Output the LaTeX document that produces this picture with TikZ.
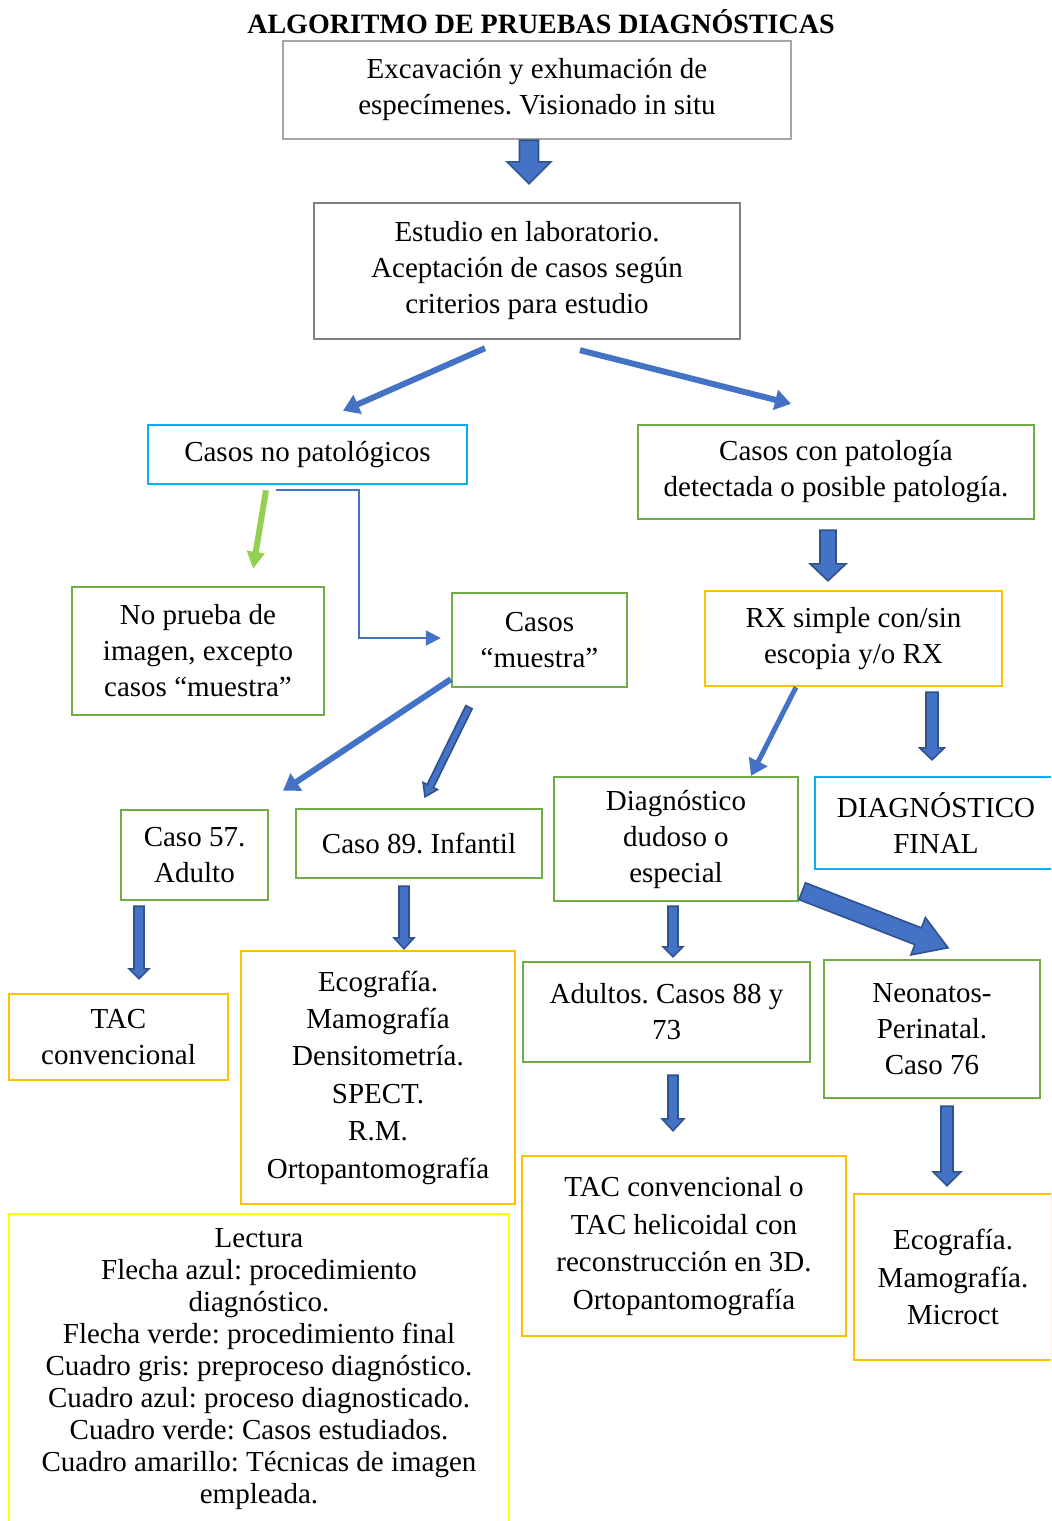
\documentclass[tikz,border=0pt]{standalone}
\usepackage{fontspec}
\setmainfont{Liberation Serif}
\frenchspacing
\usetikzlibrary{arrows.meta,calc}

\definecolor{boxgrayA}{HTML}{A6A6A6}
\definecolor{boxgrayB}{HTML}{808080}
\definecolor{boxcyan}{HTML}{00B0F0}
\definecolor{boxgreen}{HTML}{70AD47}
\definecolor{boxorange}{HTML}{FFC000}
\definecolor{boxyellow}{HTML}{FFFF00}
\definecolor{arrblue}{HTML}{4472C4}
\definecolor{arrdark}{HTML}{2F528F}
\definecolor{arrgreen}{HTML}{92D050}

\tikzset{
  box/.style={draw, line width=1.2pt, align=center, inner sep=0pt,
    font=\fontsize{14.5}{18}\selectfont},
  graybox/.style={box, draw=boxgrayA},
  darkgraybox/.style={box, draw=boxgrayB},
  cyanbox/.style={box, draw=boxcyan},
  greenbox/.style={box, draw=boxgreen},
  orangebox/.style={box, draw=boxorange, font=\fontsize{14.5}{18.7}\selectfont},
  legendbox/.style={box, draw=boxyellow, font=\fontsize{14.5}{16}\selectfont},
  sz/.style 2 args={minimum width=#1, minimum height=#2},
  blockarr/.style={fill=arrblue, draw=arrdark, line width=0.8pt, line join=miter},
  linearr/.style={draw=arrblue, line width=3pt, -{Triangle[width=10pt,length=8pt]}},
  thinarr/.style={draw=arrblue, line width=1pt, -{Triangle[width=7.5pt,length=7.5pt]}},
  greenarr/.style={draw=arrgreen, line width=3pt, -{Triangle[width=8.5pt,length=8.5pt]}},
}

% block arrow: from, to, half shaft, half head, head length
\newcommand{\blockarrow}[5]{%
  \coordinate (bhead) at ($(#2)!#5!(#1)$);
  \filldraw[blockarr] ($(#1)!#3!90:(#2)$) -- ($(bhead)!#3!90:(#2)$)
    -- ($(bhead)!#4!90:(#2)$) -- (#2) -- ($(bhead)!#4!-90:(#2)$)
    -- ($(bhead)!#3!-90:(#2)$) -- ($(#1)!#3!-90:(#2)$) -- cycle;}

\begin{document}
\begin{tikzpicture}[x=0.5pt,y=-0.5pt]
  \useasboundingbox (0,0) rectangle (1051,1521);
  \clip (0,0) rectangle (1051,1521);

  \node (title) at (541,22) {\fontsize{14}{16}\selectfont\bfseries ALGORITMO DE PRUEBAS DIAGNÓSTICAS};

  % boxes
  \node[graybox, sz={254pt}{49pt}] (exc) at (537,90)
    {Excavación y exhumación de\\especímenes. Visionado in situ};
  \node[darkgraybox, sz={213pt}{68pt}] (est) at (527,271)
    {Estudio en laboratorio.\\Aceptación de casos según\\criterios para estudio};
  \node[cyanbox, sz={159.5pt}{29.5pt}] (nopat) at (307.5,454.5)
    {Casos no patológicos};
  \node[greenbox, sz={198pt}{47pt}] (conpat) at (836,472)
    {Casos con patología\\detectada o posible patología.};
  \node[greenbox, sz={126pt}{64pt}] (noprueba) at (198,651)
    {No prueba de\\imagen, excepto\\casos “muestra”};
  \node[greenbox, sz={87.5pt}{47pt}] (muestra) at (539.5,640)
    {Casos\\“muestra”};
  \node[box, draw=boxorange, sz={148.5pt}{47.5pt}] (rx) at (853.5,638.5)
    {RX simple con/sin\\escopia y/o RX};
  \node[greenbox, sz={73.5pt}{45pt}] (c57) at (194.5,855)
    {Caso 57.\\Adulto};
  \node[greenbox, sz={123pt}{34.5pt}] (c89) at (419,843.5)
    {Caso 89. Infantil};
  \node[greenbox, sz={122pt}{62pt}] (dud) at (676,839)
    {Diagnóstico\\dudoso o\\especial};
  \node[cyanbox, sz={121pt}{46pt}] (final) at (936,823)
    {DIAGNÓSTICO\\FINAL};
  \node[box, draw=boxorange, sz={109.5pt}{43pt}] (tac) at (118.5,1037)
    {TAC\\convencional};
  \node[orangebox, sz={137pt}{126.5pt}] (eco) at (378,1077.5)
    {Ecografía.\\Mamografía\\Densitometría.\\SPECT.\\R.M.\\Ortopantomografía};
  \node[greenbox, sz={143.5pt}{50pt}] (adu) at (666.5,1012)
    {Adultos. Casos 88 y\\73};
  \node[greenbox, sz={108pt}{69pt}] (neo) at (932,1029)
    {Neonatos-\\Perinatal.\\Caso 76};
  \node[orangebox, sz={162pt}{90pt}] (tach) at (684,1246)
    {TAC convencional o\\TAC helicoidal con\\reconstrucción en 3D.\\Ortopantomografía};
  \node[orangebox, sz={99pt}{83pt}] (micro) at (953,1277)
    {Ecografía.\\Mamografía.\\Microct};
  \node[legendbox, sz={250pt}{155.5pt}] (lect) at (259,1369.5)
    {Lectura\\Flecha azul: procedimiento\\diagnóstico.\\Flecha verde: procedimiento final\\Cuadro gris: preproceso diagnóstico.\\Cuadro azul: proceso diagnosticado.\\Cuadro verde: Casos estudiados.\\Cuadro amarillo: Técnicas de imagen\\empleada.};

  % arrow ends
  \coordinate (a1s) at ($(exc.south)+(-8,0)$);
  \coordinate (a1e) at ($(est.north)+(2,-18)$);
  \coordinate (a4s) at ($(conpat.south)+(-8,10)$);
  \coordinate (a4e) at ($(rx.north)+(-25.5,-9)$);
  \coordinate (a6s) at ($(muestra.south)+(-70.5,19)$);
  \coordinate (a6e) at ($(c89.north)+(6,-11)$);
  \coordinate (a8s) at ($(rx.south)+(78.5,5)$);
  \coordinate (a8e) at ($(final.north)+(-4,-16)$);
  \coordinate (a9s) at ($(c57.south)+(-55.5,5)$);
  \coordinate (a9e) at ($(tac.north)+(20.5,-14)$);
  \coordinate (a10s) at ($(c89.south)+(-15,7)$);
  \coordinate (a10e) at ($(eco.north)+(26,-1)$);
  \coordinate (a11s) at ($(dud.south)+(-3,4)$);
  \coordinate (a11e) at ($(adu.north)+(6.5,-4)$);
  \coordinate (a12s) at ($(dud.south east)+(3,-11)$);
  \coordinate (a12e) at ($(neo.north)+(16,-11)$);
  \coordinate (a13s) at ($(adu.south)+(6.5,12)$);
  \coordinate (a13e) at ($(tach.north)+(-11,-24)$);
  \coordinate (a14s) at ($(neo.south)+(15,7)$);
  \coordinate (a14e) at ($(micro.north)+(-6,-7)$);

  % block arrows
  \blockarrow{a1s}{a1e}{4.75pt}{11pt}{11pt}
  \blockarrow{a4s}{a4e}{4pt}{9pt}{8.5pt}
  \blockarrow{a6s}{a6e}{1.75pt}{4pt}{6pt}
  \blockarrow{a8s}{a8e}{3pt}{6.25pt}{6pt}
  \blockarrow{a9s}{a9e}{2.5pt}{5pt}{5pt}
  \blockarrow{a10s}{a10e}{2.5pt}{5pt}{5.5pt}
  \blockarrow{a11s}{a11e}{2.5pt}{5pt}{5pt}
  \blockarrow{a12s}{a12e}{4.5pt}{10pt}{16pt}
  \blockarrow{a13s}{a13e}{2.5pt}{5.5pt}{6pt}
  \blockarrow{a14s}{a14e}{3pt}{7pt}{7pt}

  % line arrows
  \draw[linearr] ($(est.south)+(-42,8)$) -- ($(nopat.north)+(35.5,-13)$);
  \draw[linearr] ($(est.south)+(53,10)$) -- ($(conpat.north)+(-45,-20)$);
  \draw[greenarr] ($(nopat.south)+(-41.5,5)$) -- ($(noprueba.north)+(55,-17)$);
  \draw[thinarr] ($(nopat.south)+(-31.5,5)$) -- ++(83,0) |- ($(muestra.west)+(-10,-2)$);
  \draw[linearr] ($(muestra.south west)+(0,-9)$) -- ($(c57.north)+(88.5,-18)$);
  \draw[linearr, line width=2.5pt] ($(rx.south)+(-57.5,0)$) -- ($(dud.north)+(75,0)$);

\end{tikzpicture}
\end{document}
